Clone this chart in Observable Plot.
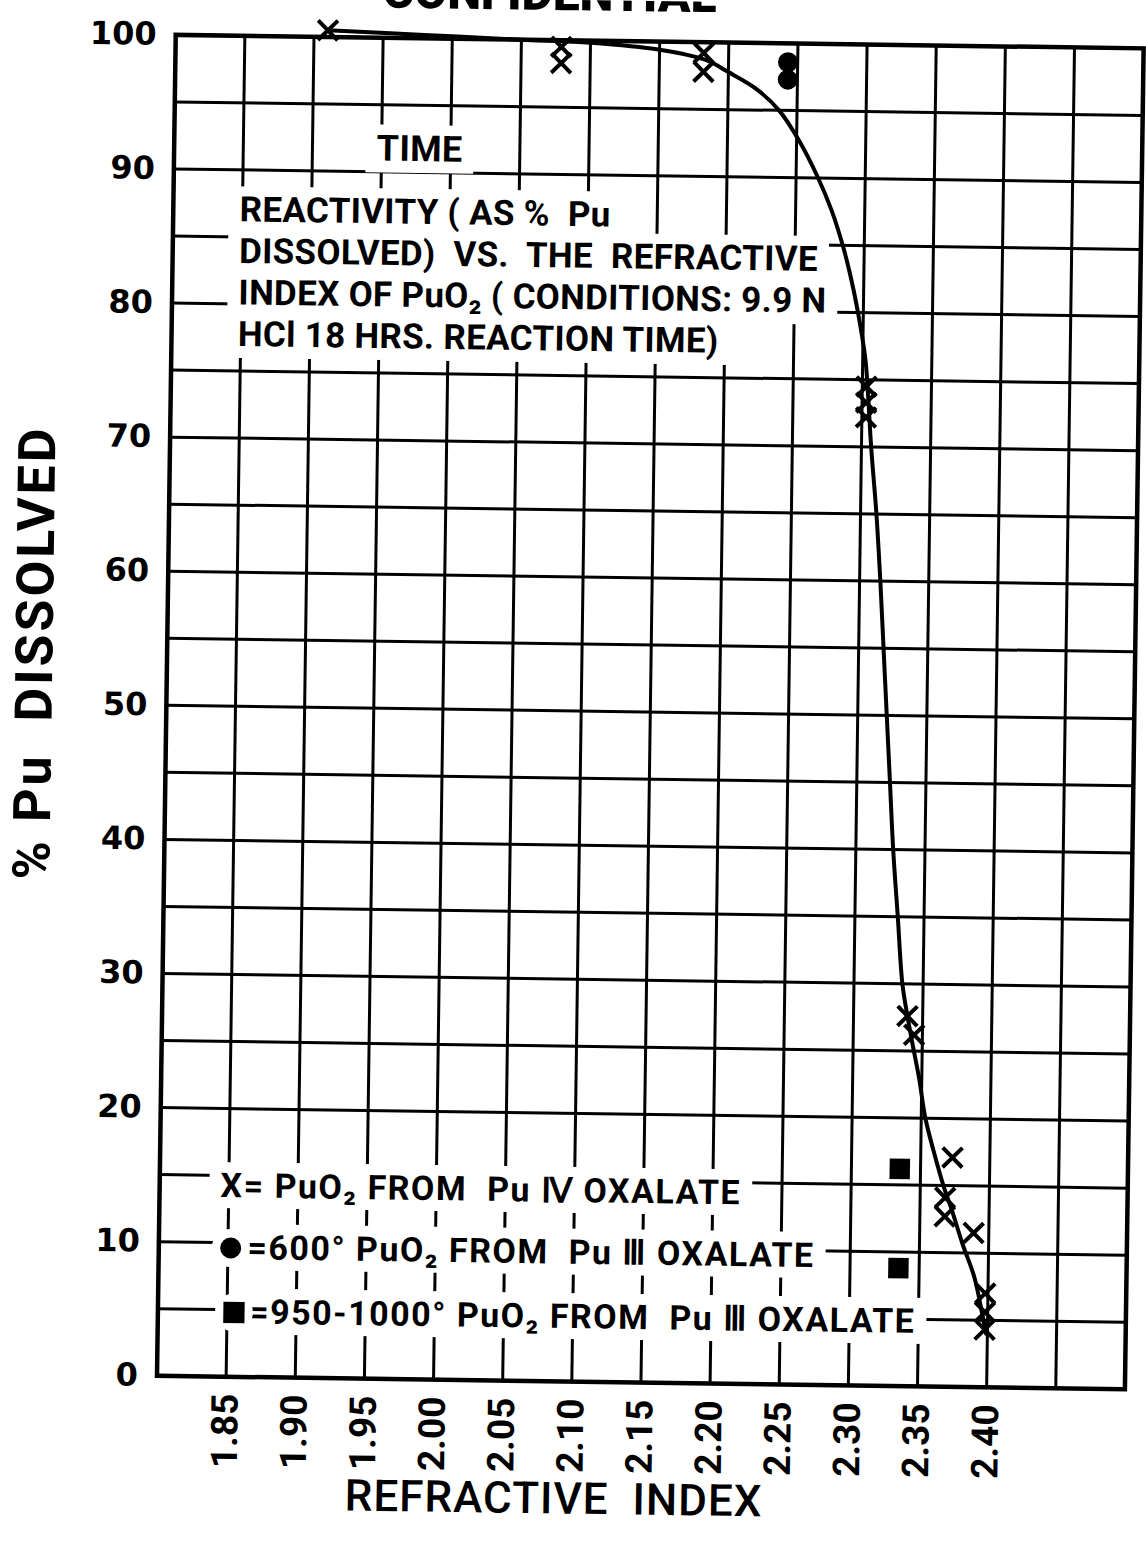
<!DOCTYPE html>
<html><head><meta charset="utf-8">
<script src="https://cdn.jsdelivr.net/npm/d3@7"></script>
<script src="https://cdn.jsdelivr.net/npm/@observablehq/plot@0.6"></script>
<style>
html,body{margin:0;padding:0;background:#fff;}
#chart{width:1146px;height:1541px;overflow:hidden;}
#chart svg{transform:rotate(0.8deg);transform-origin:573px 770px;}
</style></head><body><div id="chart"></div>
<script>
// grid and tick definitions
const xGrid = [1.80,1.85,1.90,1.95,2.00,2.05,2.10,2.15,2.20,2.25,2.30,2.35,2.40,2.45,2.50];
const yGrid = [0,5,10,15,20,25,30,35,40,45,50,55,60,65,70,75,80,85,90,95,100];
const xTickValues = [1.85,1.90,1.95,2.00,2.05,2.10,2.15,2.20,2.25,2.30,2.35,2.40];
const xTickLabels = ["1.85","1.90","1.95","2.00","2.05","2.10","2.15","2.20","2.25","2.30","2.35","2.40"];
const yTickValues = [0,10,20,30,40,50,60,70,80,90,100];
const yTickLabels = ["0","10","20","30","40","50","60","70","80","90","100"];

// X = PuO2 from Pu IV oxalate
const ivX = [1.91, 2.079, 2.079, 2.182, 2.182, 2.303, 2.303, 2.303, 2.339, 2.344, 2.373, 2.368, 2.368, 2.389, 2.398, 2.398, 2.398];
const ivY = [100.5, 99.5, 98.3, 99.2, 97.8, 74.5, 73.3, 72.2, 27.6, 26.2, 17.1, 14.1, 12.7, 11.5, 7.0, 5.6, 4.3];
// filled circles = 600° PuO2 from Pu III oxalate
const c600X = [2.243, 2.243];
const c600Y = [98.6, 97.3];
// filled squares = 950-1000° PuO2 from Pu III oxalate
const s950X = [2.335, 2.335];
const s950Y = [16.2, 8.8];
// hand-drawn curve
const curveX = [1.91, 1.98, 2.05, 2.10, 2.15, 2.183, 2.20, 2.22, 2.237, 2.251, 2.265, 2.276, 2.285, 2.292, 2.298, 2.302, 2.304, 2.307, 2.3115, 2.315, 2.318, 2.321, 2.324, 2.327, 2.331, 2.335, 2.339, 2.343, 2.348, 2.353, 2.36, 2.367, 2.373, 2.381, 2.39, 2.396, 2.399];
const curveY = [100.5, 100.25, 100.0, 99.85, 99.4, 98.7, 97.8, 96.6, 95.0, 92.9, 90.2, 87.6, 84.8, 82.0, 79.0, 76.5, 74.2, 70, 65, 60, 55, 50, 45, 40, 35, 30, 27.6, 25.5, 23, 20, 17.3, 14.9, 13.2, 10.7, 8.2, 5.5, 4.0];

// annotation text and anchors (data units)
const titleLines = ["REACTIVITY ( AS %  Pu", "DISSOLVED)  VS.  THE  REFRACTIVE", "INDEX OF PuO₂ ( CONDITIONS: 9.9 N", "HCl 18 HRS. REACTION TIME)"];
const titleX = [1.848, 1.848, 1.848, 1.848];
const titleY = [87.0, 83.9, 80.8, 77.7];
const timeLabel = ["TIME"]; const timeX = [1.9775]; const timeY = [91.7];
const legendTexts = ["X= PuO₂ FROM  Pu Ⅳ OXALATE", "=600° PuO₂ FROM  Pu Ⅲ OXALATE", "=950-1000° PuO₂ FROM  Pu Ⅲ OXALATE"];
const legendTextX = [1.844, 1.864, 1.866];
const legendY = [14.2, 9.6, 4.8];
const legendSymX = [1.852, 1.855];
const legendSymY = [9.6, 4.8];
const confidential = ["CONFIDENTIAL"]; const confX = [2.07]; const confY = [103.4];
const xTitle = ["REFRACTIVE  INDEX"]; const xTitleX = [2.088]; const xTitleY = [-8.8];
const yTitle = ["% Pu  DISSOLVED"]; const yTitleX = [1.705]; const yTitleY = [53.8];

const idx = a => a.map((_, i) => i);
const masked = {fill: "black", fontFamily: "Roboto", fontWeight: "bold"};

const chart = Plot.plot({
  width: 1146, height: 1541,
  marginLeft: 165, marginRight: 13, marginTop: 40, marginBottom: 160,
  x: {domain: [1.80, 2.50]},
  y: {domain: [0, 100]},
  style: {background: "white"},
  marks: [
    Plot.ruleX(xGrid, {stroke: "black", strokeWidth: 3}),
    Plot.ruleY(yGrid, {stroke: "black", strokeWidth: 3}),
    Plot.text(idx(titleLines), {x: i => titleX[i], y: i => titleY[i], text: i => titleLines[i], textAnchor: "start", fontSize: 35, ...masked, ariaDescription: "masked-title"}),
    Plot.text(idx(timeLabel), {x: i => timeX[i], y: i => timeY[i], text: i => timeLabel[i], fontSize: 36, ...masked, ariaDescription: "masked-title"}),
    Plot.text(idx(legendTexts), {x: i => legendTextX[i], y: i => legendY[i], text: i => legendTexts[i], textAnchor: "start", fontSize: 34, ...masked, ariaDescription: "masked-legend"}),
    Plot.dot(idx(legendSymX), {x: i => legendSymX[i], y: i => legendSymY[i], r: 19, fill: "white", stroke: null}),
    Plot.dot([0], {x: () => legendSymX[0], y: () => legendSymY[0], r: 10.5, fill: "black", stroke: null}),
    Plot.dot([1], {x: () => legendSymX[1], y: () => legendSymY[1], r: 12, symbol: "square", fill: "black", stroke: null}),
    Plot.frame({stroke: "black", strokeWidth: 4.5}),
    Plot.line(idx(curveX), {x: i => curveX[i], y: i => curveY[i], curve: "catmull-rom", stroke: "black", strokeWidth: 4}),
    Plot.dot(idx(ivX), {x: i => ivX[i], y: i => ivY[i], symbol: "times", r: 9, stroke: "black", strokeWidth: 4}),
    Plot.dot(idx(c600X), {x: i => c600X[i], y: i => c600Y[i], r: 10, fill: "black", stroke: null}),
    Plot.dot(idx(s950X), {x: i => s950X[i], y: i => s950Y[i], symbol: "square", r: 11.5, fill: "black", stroke: null}),
    Plot.axisX(xTickValues, {tickFormat: d => xTickLabels[xTickValues.indexOf(d)], tickRotate: -90, tickSize: 0, tickPadding: 17, fontSize: 37, fontWeight: "bold", fontFamily: "Roboto", label: null, fill: "black"}),
    Plot.axisY(yTickValues, {tickFormat: d => yTickLabels[yTickValues.indexOf(d)], tickSize: 0, tickPadding: 19, fontSize: 32, fontWeight: "bold", fontFamily: "DejaVu Sans", label: null, fill: "black"}),
    Plot.text(idx(confidential), {x: i => confX[i], y: i => confY[i], text: i => confidential[i], fontSize: 48, fontFamily: "Roboto", fontWeight: "900", fill: "black"}),
    Plot.text(idx(xTitle), {x: i => xTitleX[i], y: i => xTitleY[i], text: i => xTitle[i], fontSize: 44, fontFamily: "Roboto", fontWeight: "500", fill: "black", ariaDescription: "xtitle"}),
    Plot.text(idx(yTitle), {x: i => yTitleX[i], y: i => yTitleY[i], text: i => yTitle[i], rotate: -90, fontSize: 52, fontFamily: "Roboto", fontWeight: "bold", fill: "black", ariaDescription: "ytitle"})
  ]
});
document.getElementById("chart").appendChild(chart);

// letter spacing tweaks
const setLS = (desc, v) => chart.querySelectorAll(`g[aria-description="${desc}"]`).forEach(g => g.style.letterSpacing = v);
setLS("masked-title", "0.3px");
setLS("masked-legend", "1.5px");
setLS("xtitle", "1px");
setLS("ytitle", "3px");

// white masks behind annotation texts so grid lines break around them (as on the drawn sheet)
const NS = "http://www.w3.org/2000/svg";
chart.querySelectorAll('g[aria-description^="masked"]').forEach(g => {
  Array.from(g.querySelectorAll("text")).forEach(t => {
    const b = t.getBBox();
    const r = document.createElementNS(NS, "rect");
    r.setAttribute("x", b.x - 11);
    r.setAttribute("y", b.y - 3);
    r.setAttribute("width", b.width + 22);
    r.setAttribute("height", b.height + 6);
    r.setAttribute("fill", "white");
    r.setAttribute("stroke", "none");
    const tr = t.getAttribute("transform");
    if (tr) r.setAttribute("transform", tr);
    g.insertBefore(r, g.firstChild);
  });
});
</script>
</body></html>
